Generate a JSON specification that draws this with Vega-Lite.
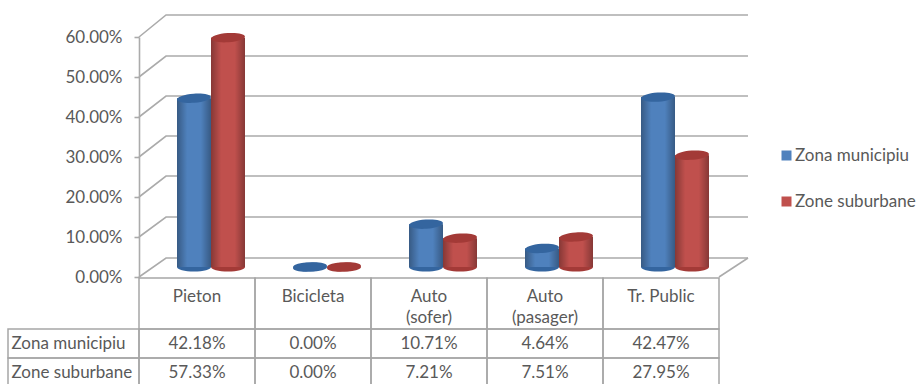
{"$schema":"https://vega.github.io/schema/vega-lite/v6.json","width":920,"height":384,"padding":0,"autosize":{"type":"none"},"background":"white",
"datasets":{"rows":[
{"cat":"Pieton","series":"Zona municipiu","value":0.4218},{"cat":"Pieton","series":"Zone suburbane","value":0.5733},
{"cat":"Bicicleta","series":"Zona municipiu","value":0},{"cat":"Bicicleta","series":"Zone suburbane","value":0},
{"cat":"Auto\n(sofer)","series":"Zona municipiu","value":0.1071},{"cat":"Auto\n(sofer)","series":"Zone suburbane","value":0.0721},
{"cat":"Auto\n(pasager)","series":"Zona municipiu","value":0.0464},{"cat":"Auto\n(pasager)","series":"Zone suburbane","value":0.0751},
{"cat":"Tr. Public","series":"Zona municipiu","value":0.4247},{"cat":"Tr. Public","series":"Zone suburbane","value":0.2795}],
"cats":[{"cat":"Pieton"},{"cat":"Bicicleta"},{"cat":"Auto\n(sofer)"},{"cat":"Auto\n(pasager)"},{"cat":"Tr. Public"}],
"names":[{"series":"Zona municipiu"},{"series":"Zone suburbane"}],
"wall":[
{"path":"g60","col":0,"v":0.6},{"path":"g60","col":0.233,"v":0.655},{"path":"g60","col":5.25,"v":0.655},
{"path":"g50","col":0,"v":0.5},{"path":"g50","col":0.233,"v":0.5525},{"path":"g50","col":5.25,"v":0.5525},
{"path":"g40","col":0,"v":0.4},{"path":"g40","col":0.233,"v":0.4525},{"path":"g40","col":5.25,"v":0.4525},
{"path":"g30","col":0,"v":0.3},{"path":"g30","col":0.233,"v":0.3525},{"path":"g30","col":5.25,"v":0.3525},
{"path":"g20","col":0,"v":0.2},{"path":"g20","col":0.233,"v":0.2525},{"path":"g20","col":5.25,"v":0.2525},
{"path":"g10","col":0,"v":0.1},{"path":"g10","col":0.233,"v":0.15},{"path":"g10","col":5.25,"v":0.15},
{"path":"g00","col":0,"v":0},{"path":"g00","col":0.233,"v":0.0475},{"path":"g00","col":5.25,"v":0.0475},
{"path":"floor","col":5,"v":0},{"path":"floor","col":5.25,"v":0.0475}]},
"config":{"view":{"stroke":null},"text":{"font":"Lato","fontSize":17,"fill":"#595959"}},
"resolve":{"scale":{"x":"independent","y":"independent","color":"independent"}},
"layer":[
{"data":{"name":"wall"},"mark":{"type":"line","color":"#ababab","strokeWidth":1.6},
"encoding":{"x":{"field":"col","type":"quantitative","axis":null,"scale":{"domain":[0,5],"range":[139,719]}},
"y":{"field":"v","type":"quantitative","title":null,"scale":{"domain":[0,0.6],"range":[277,37]},
"axis":{"values":[0,0.1,0.2,0.3,0.4,0.5,0.6],"format":".2%","offset":-139,"grid":false,"tickSize":5,"tickColor":"#ababab","domainColor":"#ababab","domainWidth":1.6,"tickWidth":1.6,"labelFont":"Lato","labelFontSize":17,"labelColor":"#595959","labelPadding":12,"title":null}},
"detail":{"field":"path"}}},
{"data":{"name":"cats"},"mark":{"type":"rect","fill":"transparent","stroke":"#a6a6a6","strokeWidth":1.5},
"encoding":{"x":{"field":"cat","type":"nominal","axis":null,"sort":null,"scale":{"type":"band","range":[139,719],"paddingInner":0,"paddingOuter":0}},
"y":{"datum":"head","type":"nominal","axis":null,"scale":{"type":"band","domain":["head"],"range":[278,329],"paddingInner":0,"paddingOuter":0}}}},
{"data":{"name":"cats"},"mark":{"type":"text","lineBreak":"\n","lineHeight":21,"baseline":"top"},
"encoding":{"x":{"field":"cat","type":"nominal","axis":null,"sort":null,"scale":{"type":"band","range":[139,719],"paddingInner":0,"paddingOuter":0}},
"y":{"datum":"head","type":"nominal","axis":null,"scale":{"type":"band","domain":["head"],"range":[278,300],"paddingInner":0,"paddingOuter":0}},
"text":{"field":"cat"}}},
{"data":{"name":"rows"},"mark":{"type":"rect","fill":"transparent","stroke":"#a6a6a6","strokeWidth":1.5},
"encoding":{"x":{"field":"cat","type":"nominal","axis":null,"sort":null,"scale":{"type":"band","range":[139,719],"paddingInner":0,"paddingOuter":0}},
"y":{"field":"series","type":"nominal","axis":null,"scale":{"type":"band","domain":["Zona municipiu","Zone suburbane"],"range":[329,387],"paddingInner":0,"paddingOuter":0}}}},
{"data":{"name":"rows"},"mark":{"type":"text","baseline":"middle"},
"encoding":{"x":{"field":"cat","type":"nominal","axis":null,"sort":null,"scale":{"type":"band","range":[139,719],"paddingInner":0,"paddingOuter":0}},
"y":{"field":"series","type":"nominal","axis":null,"scale":{"type":"band","domain":["Zona municipiu","Zone suburbane"],"range":[329,387],"paddingInner":0,"paddingOuter":0}},
"text":{"field":"value","type":"quantitative","format":".2%"}}},
{"data":{"name":"names"},"mark":{"type":"rect","fill":"transparent","stroke":"#a6a6a6","strokeWidth":1.5},
"encoding":{"x":{"datum":"Serie","type":"nominal","axis":null,"scale":{"type":"band","domain":["Serie"],"range":[8,139],"paddingInner":0,"paddingOuter":0}},
"y":{"field":"series","type":"nominal","axis":null,"scale":{"type":"band","domain":["Zona municipiu","Zone suburbane"],"range":[329,387],"paddingInner":0,"paddingOuter":0}}}},
{"data":{"name":"names"},"mark":{"type":"text","baseline":"middle","align":"left","dx":-62},
"encoding":{"x":{"datum":"Serie","type":"nominal","axis":null,"scale":{"type":"band","domain":["Serie"],"range":[8,139],"paddingInner":0,"paddingOuter":0}},
"y":{"field":"series","type":"nominal","axis":null,"scale":{"type":"band","domain":["Zona municipiu","Zone suburbane"],"range":[329,387],"paddingInner":0,"paddingOuter":0}},
"text":{"field":"series"}}},
{"data":{"name":"rows"},"mark":{"type":"point","filled":true,"opacity":1,"strokeWidth":0,"size":1156,"shape":"M-1,0A1,0.27,0,1,1,1,0A1,0.27,0,1,1,-1,0Z"},
"encoding":{"x":{"field":"cat","type":"nominal","axis":null,"sort":null,"scale":{"type":"band","range":[139,719],"paddingInner":0,"paddingOuter":0}},
"xOffset":{"field":"series","scale":{"type":"band","range":[38,106],"paddingInner":0,"paddingOuter":0}},
"y":{"datum":0,"type":"quantitative","axis":null,"scale":{"domain":[0,0.6],"range":[267,27]}},
"color":{"field":"series","legend":null,"scale":{"domain":["Zona municipiu","Zone suburbane"],"range":["#34659f","#a33a37"]}}}},
{"data":{"name":"rows"},"mark":{"type":"bar"},
"encoding":{"x":{"field":"cat","type":"nominal","axis":null,"sort":null,"scale":{"type":"band","range":[139,719],"paddingInner":0,"paddingOuter":0}},
"xOffset":{"field":"series","scale":{"type":"band","range":[38,106],"paddingInner":0,"paddingOuter":0}},
"y":{"field":"value","type":"quantitative","axis":null,"scale":{"domain":[0,0.6],"range":[267,27]}},
"color":{"field":"series","scale":{"domain":["Zona municipiu","Zone suburbane"],"range":["#4f81bd","#c0504d"]},
"legend":{"title":null,"orient":"none","legendX":778,"legendY":147,"symbolType":"square","symbolSize":100,"symbolStrokeWidth":0,"labelFont":"Lato","labelFontSize":17,"labelColor":"#595959","labelOffset":0,"rowPadding":28,"columns":1}}}},
{"data":{"name":"rows"},"mark":{"type":"bar","color":{"gradient":"linear","x1":0,"x2":1,"y1":0,"y2":0,"stops":[{"offset":0,"color":"rgba(0,0,0,0.3)"},{"offset":0.3,"color":"rgba(0,0,0,0)"},{"offset":0.7,"color":"rgba(0,0,0,0)"},{"offset":1,"color":"rgba(0,0,0,0.3)"}]}},
"encoding":{"x":{"field":"cat","type":"nominal","axis":null,"sort":null,"scale":{"type":"band","range":[139,719],"paddingInner":0,"paddingOuter":0}},
"xOffset":{"field":"series","scale":{"type":"band","range":[38,106],"paddingInner":0,"paddingOuter":0}},
"y":{"field":"value","type":"quantitative","axis":null,"scale":{"domain":[0,0.6],"range":[267,27]}}}},
{"data":{"name":"rows"},"mark":{"type":"point","filled":true,"opacity":1,"strokeWidth":0,"size":1156,"angle":-4,"shape":"M-1,0A1,0.27,0,1,1,1,0A1,0.27,0,1,1,-1,0Z"},
"encoding":{"x":{"field":"cat","type":"nominal","axis":null,"sort":null,"scale":{"type":"band","range":[139,719],"paddingInner":0,"paddingOuter":0}},
"xOffset":{"field":"series","scale":{"type":"band","range":[38,106],"paddingInner":0,"paddingOuter":0}},
"y":{"field":"value","type":"quantitative","axis":null,"scale":{"domain":[0,0.6],"range":[267,27]}},
"color":{"field":"series","legend":null,"scale":{"domain":["Zona municipiu","Zone suburbane"],"range":["#34659f","#a33a37"]}}}}
]}
